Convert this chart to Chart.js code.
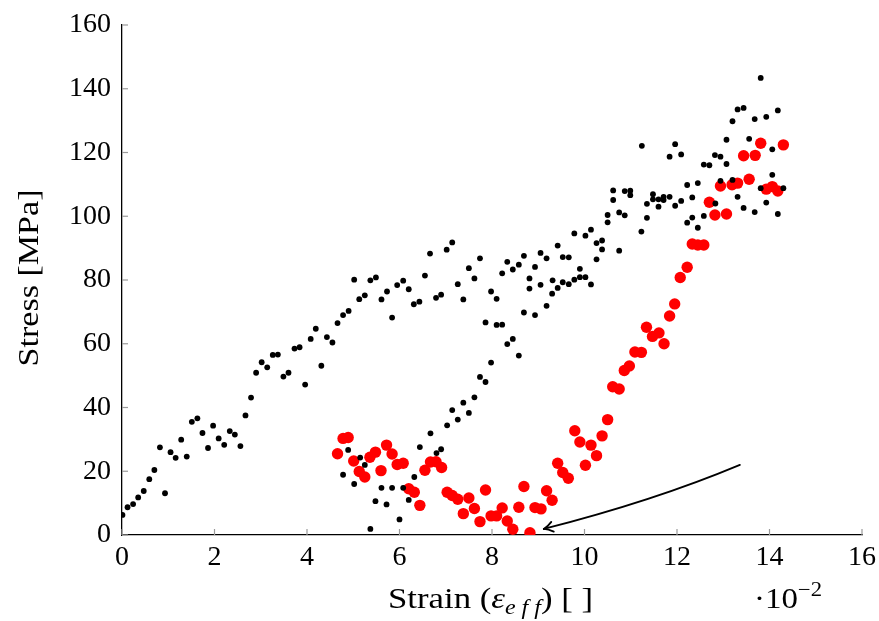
<!DOCTYPE html>
<html>
<head>
<meta charset="utf-8">
<script src="https://cdn.jsdelivr.net/npm/chart.js@4.4.1/dist/chart.umd.min.js"></script>
<style>
  html, body { margin: 0; padding: 0; background: #ffffff; }
  #wrap { width: 879px; height: 621px; }
</style>
</head>
<body>
<div id="wrap"><canvas id="chart" width="879" height="621"></canvas></div>
<script>
// Axis ticks (strain in units of 10^-2, stress in MPa)
const strainTicks = [0, 2, 4, 6, 8, 10, 12, 14, 16];
const stressTicks = [0, 20, 40, 60, 80, 100, 120, 140, 160];

// Measured response (black)
const strainMeasured = [
  0.01, 0.12, 0.24, 0.35, 0.47, 0.59, 0.70, 0.82, 0.93, 1.05, 1.16, 1.28, 1.40, 1.51, 1.63, 1.74,
  1.86, 1.97, 2.09, 2.21, 2.33, 2.44, 2.56, 2.67, 2.79, 2.90, 3.02, 3.14, 3.26, 3.37, 3.49, 3.60,
  3.73, 3.84, 3.96, 4.08, 4.19, 4.31, 4.43, 4.55, 4.66, 4.78, 4.90, 5.02, 5.13, 5.25, 5.37, 5.49,
  5.61, 5.73, 5.84, 5.95, 6.08, 6.20, 6.31, 6.43, 6.55, 6.66, 6.79, 6.90, 7.02, 7.14, 7.26, 7.38,
  7.50, 7.62, 7.74, 7.98, 8.10, 8.22, 8.33, 8.45, 8.58, 8.69, 8.81, 8.81, 8.93, 8.93, 8.69, 9.05,
  9.05, 9.18, 9.18, 9.30, 9.31, 9.42, 9.42, 9.53, 9.66, 9.53, 9.66, 9.78, 9.78, 9.90, 9.90, 10.02,
  10.02, 10.14, 10.14, 10.26, 10.26, 10.38, 10.38, 10.50, 10.50, 10.62, 10.62, 10.75, 10.75, 10.87, 10.87, 10.99,
  10.99, 11.23, 11.24, 11.35, 11.35, 11.48, 11.48, 11.60, 11.60, 11.71, 11.71, 11.84, 11.84, 11.96, 11.96, 12.09,
  12.09, 12.22, 12.22, 12.33, 12.33, 12.45, 12.45, 12.58, 12.58, 12.70, 12.82, 12.83, 12.94, 12.94, 13.07, 13.07,
  13.20, 13.20, 13.31, 13.44, 13.31, 13.44, 13.56, 13.68, 13.68, 13.81, 13.81, 13.93, 13.93, 14.06, 14.06, 14.18,
  14.18, 14.30,
  4.78, 4.89, 5.02, 5.15, 5.25, 5.37, 5.48, 5.61, 5.72, 5.84, 6.00, 6.08, 6.20, 6.32, 6.44, 6.67,
  6.80, 6.90, 7.03, 7.14, 7.26, 7.38, 7.50, 7.62, 7.74, 7.86, 7.98, 7.86, 8.10, 8.22, 8.33, 8.45,
  8.58
];
const stressMeasured = [
  6.3, 8.7, 9.7, 11.8, 13.8, 17.5, 20.4, 27.5, 13.1, 26.0, 24.2, 29.9, 24.6, 35.5, 36.6, 32.0,
  27.3, 34.3, 30.3, 28.3, 32.6, 31.5, 27.9, 37.5, 43.1, 50.9, 54.2, 52.6, 56.5, 56.6, 49.7, 50.9,
  58.5, 58.9, 47.2, 61.5, 64.7, 53.1, 62.1, 60.4, 66.5, 69.0, 70.3, 80.1, 74.0, 75.2, 79.9, 80.8,
  73.9, 76.4, 68.2, 78.4, 79.8, 77.1, 72.4, 73.2, 81.4, 88.3, 74.4, 75.4, 89.5, 91.8, 78.7, 73.9,
  83.7, 80.5, 86.8, 76.4, 74.1, 82.1, 85.7, 83.3, 84.8, 87.6, 80.5, 77.3, 84.1, 69.0, 69.8, 88.5,
  78.5, 86.8, 71.9, 75.7, 79.9, 90.8, 77.5, 87.2, 87.1, 79.3, 78.7, 94.6, 80.1, 83.5, 80.9, 80.9,
  93.9, 95.8, 78.6, 91.6, 86.5, 92.4, 89.6, 100.4, 98.1, 108.1, 105.1, 101.2, 89.2, 100.3, 107.9, 108.0,
  106.6, 95.2, 122.1, 103.9, 99.5, 106.9, 105.3, 105.3, 103.0, 106.1, 105.1, 106.1, 118.7, 103.3, 122.6, 119.4,
  104.8, 109.8, 98.0, 105.9, 99.6, 110.4, 96.4, 116.2, 100.1, 116.0, 119.2, 104.0, 118.7, 111.1, 124.0, 116.4,
  129.8, 111.4, 133.5, 134.0, 106.1, 102.6, 124.3, 130.5, 101.3, 143.4, 108.8, 131.2, 104.3, 121.0, 113.0, 133.2,
  100.7, 108.8,
  18.9, 26.7, 16.0, 24.3, 22.0, 1.9, 10.6, 14.8, 9.6, 14.8, 4.9, 14.8, 11.0, 18.2, 27.6, 31.9,
  25.7, 26.9, 34.4, 39.2, 36.2, 41.5, 38.3, 43.2, 49.6, 48.0, 54.1, 66.7, 65.9, 66.0, 59.9, 61.5,
  56.3
];

// Reloading response (red)
const strainReload = [
  4.66, 4.78, 4.89, 5.01, 5.13, 5.25, 5.36, 5.48, 5.60, 5.72, 5.84, 5.95, 6.08, 6.20, 6.32, 6.44,
  6.55, 6.67, 6.79, 6.91, 7.03, 7.14, 7.26, 7.38, 7.50, 7.62, 7.74, 7.86, 7.98, 8.10, 8.22, 8.33,
  8.45, 8.58, 8.69, 8.82, 8.93, 9.06, 9.18, 9.30, 9.42, 9.53, 9.65, 9.79, 9.90, 10.02, 10.14, 10.26,
  10.38, 10.50, 10.61, 10.75, 10.86, 10.97, 11.09, 11.23, 11.34, 11.47, 11.61, 11.72, 11.84, 11.95, 12.07, 12.22,
  12.33, 12.45, 12.58, 12.70, 12.82, 12.94, 13.07, 13.19, 13.31, 13.44, 13.56, 13.69, 13.81, 13.93, 14.06, 14.18,
  14.30
];
const stressReload = [
  25.5, 30.3, 30.6, 23.2, 19.9, 18.2, 24.4, 26.0, 20.2, 28.2, 25.4, 22.1, 22.5, 14.5, 13.4, 9.3,
  20.3, 22.9, 23.0, 21.2, 13.4, 12.4, 11.2, 6.7, 11.6, 8.3, 4.2, 14.1, 6.0, 6.0, 8.5, 4.4,
  1.8, 8.7, 15.2, 0.7, 8.6, 8.2, 13.9, 10.9, 22.5, 19.6, 17.8, 32.7, 29.2, 21.9, 28.2, 24.9,
  31.1, 36.2, 46.5, 45.8, 51.6, 53.0, 57.4, 57.3, 65.2, 62.3, 63.4, 60.0, 68.7, 72.5, 80.8, 84.0,
  91.3, 91.0, 91.0, 104.4, 100.4, 109.5, 100.7, 109.9, 110.4, 119.0, 111.6, 119.1, 122.9, 108.5, 109.3, 107.9,
  122.4
];

// Annotation arrow, in axis units: start, bend control, tip
const arrowStart = [13.36, 22.0];
const arrowBend = [11.5, 10.7];
const arrowTip = [9.12, 1.9];

const FONT = "'Liberation Serif', 'Times New Roman', serif";
const TICK_SIZE = 28;
const TITLE_SIZE = 29;

const toPoints = (xs, ys) => xs.map((v, i) => ({ x: v, y: ys[i] }));

// draws a run of text pieces, stretched horizontally to a given width
function drawRun(ctx, parts, left, baseline, width) {
  let natural = 0;
  parts.forEach(p => { ctx.font = p.f; p.w = ctx.measureText(p.t).width; natural += p.w; });
  const sx = width ? width / natural : 1;
  ctx.save();
  ctx.translate(left, baseline);
  ctx.scale(sx, 1);
  ctx.textAlign = 'left';
  ctx.textBaseline = 'alphabetic';
  let cx = 0;
  parts.forEach(p => { ctx.font = p.f; ctx.fillText(p.t, cx, p.dy || 0); cx += p.w; });
  ctx.restore();
}

const axisDecor = {
  id: 'axisDecor',
  beforeDatasetsDraw(chart) {
    const { ctx, chartArea, scales: { x, y } } = chart;
    ctx.save();
    ctx.strokeStyle = '#9a9a9a';
    ctx.lineWidth = 1.2;
    const len = 6;
    x.ticks.forEach(t => {
      const px = x.getPixelForValue(t.value);
      ctx.beginPath();
      ctx.moveTo(px, chartArea.bottom);
      ctx.lineTo(px, chartArea.bottom - len);
      ctx.stroke();
    });
    y.ticks.forEach(t => {
      const py = y.getPixelForValue(t.value);
      ctx.beginPath();
      ctx.moveTo(chartArea.left, py);
      ctx.lineTo(chartArea.left + len, py);
      ctx.stroke();
    });
    ctx.restore();
  },
  afterDatasetsDraw(chart) {
    const { ctx, scales: { x, y } } = chart;
    const p0 = [x.getPixelForValue(arrowStart[0]), y.getPixelForValue(arrowStart[1])];
    const c = [x.getPixelForValue(arrowBend[0]), y.getPixelForValue(arrowBend[1])];
    const p2 = [x.getPixelForValue(arrowTip[0]), y.getPixelForValue(arrowTip[1])];
    ctx.save();
    ctx.strokeStyle = '#000';
    ctx.lineWidth = 1.8;
    ctx.lineCap = 'round';
    ctx.beginPath();
    ctx.moveTo(p0[0], p0[1]);
    ctx.quadraticCurveTo(c[0], c[1], p2[0], p2[1]);
    ctx.stroke();
    // open arrow head along the end tangent
    const dx = p2[0] - c[0], dy = p2[1] - c[1];
    const d = Math.hypot(dx, dy);
    const ux = dx / d, uy = dy / d;
    const nx = -uy, ny = ux;
    const back = 9, half = 5;
    [1, -1].forEach(s => {
      const ex = p2[0] - ux * back + nx * half * s;
      const ey = p2[1] - uy * back + ny * half * s;
      const mx = p2[0] - ux * back * 0.45 + nx * half * 0.2 * s;
      const my = p2[1] - uy * back * 0.45 + ny * half * 0.2 * s;
      ctx.beginPath();
      ctx.moveTo(p2[0], p2[1]);
      ctx.quadraticCurveTo(mx, my, ex, ey);
      ctx.stroke();
    });
    ctx.restore();
  },
  afterDraw(chart) {
    const { ctx } = chart;
    ctx.save();
    ctx.fillStyle = '#000';
    const base = 608;
    const sub = Math.round(TITLE_SIZE * 0.7);

    // x-axis title with subscript
    drawRun(ctx, [
      { t: 'Strain (', f: `${TITLE_SIZE}px ${FONT}` },
      { t: 'ε', f: `italic ${TITLE_SIZE}px ${FONT}` },
      { t: 'e f f', f: `italic ${sub}px ${FONT}`, dy: 6 },
      { t: ') [ ]', f: `${TITLE_SIZE}px ${FONT}` }
    ], 388, base, 205);

    // scale multiplier of the strain axis
    drawRun(ctx, [
      { t: '·10', f: `${TITLE_SIZE}px ${FONT}` },
      { t: '−2', f: `${sub}px ${FONT}`, dy: -12 }
    ], 754, base, 68);

    // y-axis title
    ctx.translate(28, 278);
    ctx.rotate(-Math.PI / 2);
    drawRun(ctx, [{ t: 'Stress [MPa]', f: `${TITLE_SIZE}px ${FONT}` }], -177 / 2, 10, 177);
    ctx.restore();
  }
};

new Chart(document.getElementById('chart'), {
  type: 'scatter',
  data: {
    datasets: [
      {
        label: 'measured',
        data: toPoints(strainMeasured, stressMeasured),
        backgroundColor: '#000000',
        borderWidth: 0,
        pointRadius: 2.9,
        pointHoverRadius: 2.9,
        order: 0
      },
      {
        label: 'reload',
        data: toPoints(strainReload, stressReload),
        backgroundColor: '#ff0000',
        borderWidth: 0,
        pointRadius: 5.7,
        pointHoverRadius: 5.7,
        order: 1
      }
    ]
  },
  options: {
    responsive: false,
    animation: false,
    devicePixelRatio: 1,
    events: [],
    layout: { padding: { top: 25, right: 17, left: 0, bottom: 0 } },
    plugins: { legend: { display: false }, tooltip: { enabled: false } },
    scales: {
      x: {
        type: 'linear',
        min: 0, max: 16,
        afterBuildTicks: s => { s.ticks = strainTicks.map(v => ({ value: v })); },
        ticks: { font: { family: FONT, size: TICK_SIZE }, color: '#000', padding: 6, maxRotation: 0 },
        grid: { display: false, drawTicks: false },
        border: { display: true, color: '#000', width: 1.3 },
        afterFit: s => { s.height = 86; s.paddingLeft = 0; s.paddingRight = 0; }
      },
      y: {
        type: 'linear',
        min: 0, max: 160,
        afterBuildTicks: s => { s.ticks = stressTicks.map(v => ({ value: v })); },
        ticks: { font: { family: FONT, size: TICK_SIZE }, color: '#000', padding: 11 },
        grid: { display: false, drawTicks: false },
        border: { display: true, color: '#000', width: 1.3 },
        afterFit: s => { s.width = 122; s.paddingTop = 0; s.paddingBottom = 0; }
      }
    }
  },
  plugins: [axisDecor]
});
</script>
</body>
</html>
